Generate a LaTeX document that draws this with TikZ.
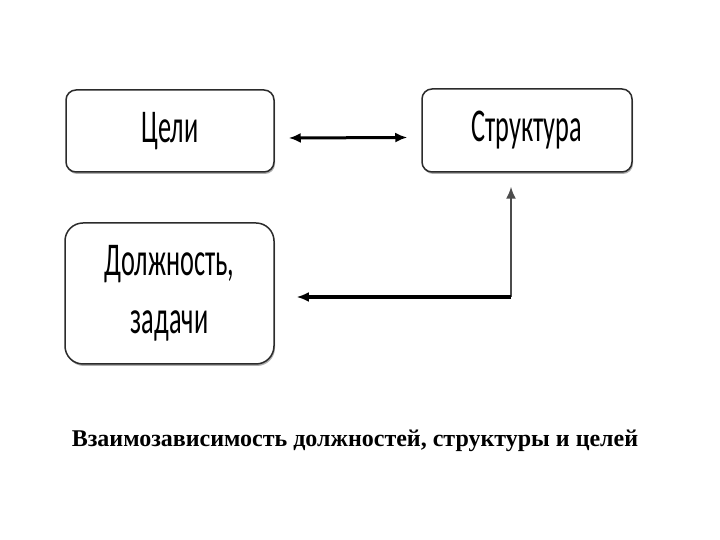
\documentclass[tikz,border=0pt]{standalone}
\usepackage{fontspec}
\usepackage{graphicx}
\setmainfont{Liberation Serif}
\newfontfamily\boxfont{Carlito}
\usetikzlibrary{arrows.meta, positioning, shadows}
\definecolor{frame}{HTML}{2B2B2B}
\newcommand{\narrow}[1]{\scalebox{0.56}[1]{#1}}

\begin{document}
\begin{tikzpicture}[
    x=1pt, y=1pt,
    box/.style={draw=frame, fill=white, line width=1.5pt, rounded corners=10pt, align=center,
      font=\boxfont\fontsize{47}{58}\selectfont,
      drop shadow={shadow xshift=1pt, shadow yshift=-2pt, fill=black!45, opacity=0.7}},
    ar/.style={{Latex[length=12pt,width=10pt]}-{Latex[length=12pt,width=10pt]}, line width=3pt, black},
    upar/.style={-{Latex[length=12pt,width=10pt]}, line width=1.8pt, black!70},
    leftar/.style={-{Latex[length=12pt,width=10pt]}, line width=3.2pt, black}
  ]
    \useasboundingbox (0,0) rectangle (720,540);
    \node[box, minimum width=208pt, minimum height=82pt] (goal) at (170,409) {\narrow{Цели}};
    \node[box, minimum width=210pt, minimum height=83pt] (struct) at (527,409.5) {\narrow{Структура}};
    \node[box, minimum width=209pt, minimum height=141pt, rounded corners=18pt] (duty) at (169.5,246.5)
      {\narrow{Должность,}\\\narrow{задачи}};
    \coordinate (turn) at (511,243);
    \draw[ar] ([xshift=14pt,yshift=-7pt]goal.east) -- ([xshift=-14pt,yshift=-7pt]struct.west);
    \draw[upar] (turn) -- ([xshift=-16pt,yshift=-14pt]struct.south);
    \draw[leftar] (turn) -- ([xshift=22pt,yshift=-3.5pt]duty.east);
    \node[font=\bfseries\fontsize{24}{28}\selectfont] (caption) at (355,99)
      {Взаимозависимость должностей, структуры и целей};
  \end{tikzpicture}
\end{document}
